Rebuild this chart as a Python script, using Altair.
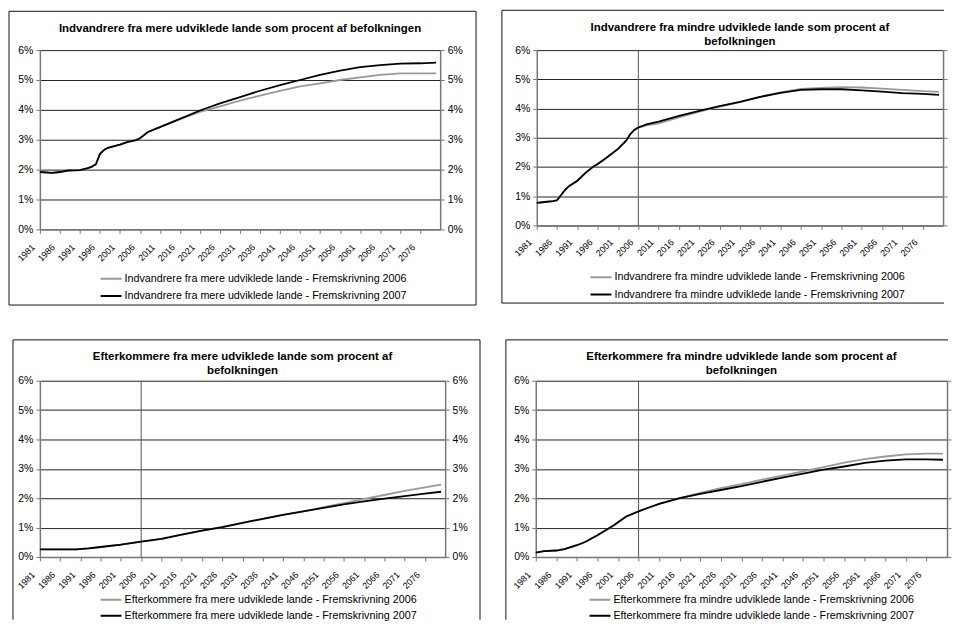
import altair as alt
import pandas as pd

FONT = "Liberation Sans"
GRAY_LINE = "#999999"
AXIS_GRAY = "#777777"

# ---------------- data (percent of population) ----------------
TICK_YEARS = list(range(1981, 2077, 5))
PCT_TICKS = [0, 1, 2, 3, 4, 5, 6]
VLINE_YEAR = [2006]

TL_YEARS = [1981, 1984, 1986, 1988, 1991, 1993, 1994, 1995, 1996, 1997, 1998, 2001, 2003,
            2005, 2006, 2008, 2011, 2016, 2021, 2026, 2031, 2036, 2041, 2046, 2051, 2056,
            2061, 2066, 2071, 2076, 2080]
TL_2007 = [1.92, 1.89, 1.92, 1.97, 1.98, 2.05, 2.10, 2.18, 2.52, 2.66, 2.73, 2.84, 2.93,
           2.99, 3.05, 3.26, 3.42, 3.70, 3.98, 4.22, 4.43, 4.64, 4.83, 5.00, 5.17, 5.31,
           5.43, 5.50, 5.55, 5.56, 5.58]
TL_2006 = [1.92, 1.89, 1.92, 1.97, 1.98, 2.05, 2.10, 2.18, 2.52, 2.66, 2.73, 2.84, 2.93,
           2.99, 3.05, 3.26, 3.42, 3.69, 3.93, 4.12, 4.31, 4.48, 4.64, 4.79, 4.89, 5.00,
           5.09, 5.17, 5.22, 5.22, 5.22]

TR_YEARS = [1981, 1983, 1985, 1986, 1988, 1989, 1991, 1993, 1995, 1996, 1998, 2001, 2003,
            2004, 2005, 2006, 2008, 2011, 2016, 2021, 2026, 2031, 2036, 2041, 2046, 2051,
            2056, 2061, 2066, 2071, 2076, 2080]
TR_2007 = [0.77, 0.80, 0.83, 0.86, 1.22, 1.35, 1.53, 1.80, 2.02, 2.10, 2.30, 2.62, 2.90,
           3.12, 3.27, 3.35, 3.46, 3.55, 3.75, 3.92, 4.08, 4.23, 4.40, 4.54, 4.64, 4.66,
           4.66, 4.62, 4.58, 4.53, 4.50, 4.47]
TR_2006 = [0.77, 0.80, 0.83, 0.86, 1.22, 1.35, 1.53, 1.80, 2.02, 2.10, 2.30, 2.62, 2.90,
           3.12, 3.27, 3.35, 3.42, 3.49, 3.70, 3.89, 4.07, 4.22, 4.40, 4.55, 4.67, 4.71,
           4.73, 4.72, 4.68, 4.64, 4.60, 4.57]

BL_YEARS = [1981, 1986, 1990, 1993, 1996, 2001, 2006, 2011, 2016, 2021, 2026, 2031, 2036,
            2041, 2046, 2051, 2056, 2061, 2066, 2071, 2076, 2080]
BL_2007 = [0.26, 0.26, 0.26, 0.29, 0.34, 0.42, 0.52, 0.62, 0.76, 0.90, 1.02, 1.16, 1.30,
           1.43, 1.55, 1.67, 1.79, 1.89, 1.99, 2.07, 2.16, 2.22]
BL_2006 = [0.26, 0.26, 0.26, 0.29, 0.34, 0.42, 0.52, 0.62, 0.76, 0.90, 1.02, 1.16, 1.30,
           1.43, 1.55, 1.70, 1.83, 1.98, 2.11, 2.25, 2.37, 2.46]

BR_YEARS = [1981, 1983, 1986, 1988, 1991, 1993, 1996, 1998, 2000, 2001, 2003, 2006, 2008,
            2011, 2016, 2021, 2026, 2031, 2036, 2041, 2046, 2051, 2056, 2061, 2066, 2071,
            2076, 2080]
BR_2007 = [0.15, 0.20, 0.22, 0.27, 0.40, 0.51, 0.74, 0.91, 1.08, 1.18, 1.38, 1.55, 1.66,
           1.81, 2.00, 2.15, 2.28, 2.41, 2.56, 2.70, 2.84, 2.97, 3.08, 3.20, 3.28, 3.32,
           3.32, 3.31]
BR_2006 = [0.15, 0.20, 0.22, 0.27, 0.40, 0.51, 0.74, 0.91, 1.08, 1.18, 1.38, 1.55, 1.66,
           1.81, 2.00, 2.18, 2.34, 2.48, 2.63, 2.77, 2.91, 3.06, 3.21, 3.33, 3.42, 3.49,
           3.52, 3.52]


def edge(x1, x2, y1, y2):
    """One side of the chart-area frame (decoration, in pixels)."""
    return alt.Chart(pd.DataFrame({"k": [0]})).mark_rule(
        color="#111111", strokeWidth=1
    ).encode(x=alt.value(x1), x2=alt.value(x2), y=alt.value(y1), y2=alt.value(y2))


def make_panel(title, cat, years, v06, v07, w, h, edges, leg, vline, toff, right_labels,
               clip_h, row_pad, lab_off, lab_pad):
    lab06 = f"{cat} - Fremskrivning 2006"
    lab07 = f"{cat} - Fremskrivning 2007"
    d06 = pd.DataFrame({"year": years, "value": v06, "series": lab06})
    d07 = pd.DataFrame({"year": years, "value": v07, "series": lab07})

    xenc = alt.X(
        "year:Q",
        scale=alt.Scale(domain=[1981, 2081], nice=False, zero=False),
        axis=alt.Axis(
            title=None, values=TICK_YEARS, format="d",
            labelAngle=-45, labelAlign="right", labelBaseline="middle",
            labelOffset=lab_off, labelPadding=lab_pad, labelOverlap=False, labelFlush=False,
            labelFont=FONT, labelFontSize=9, labelColor="black",
            tickSize=4, tickColor=AXIS_GRAY, tickWidth=1,
            domainColor=AXIS_GRAY, domainWidth=1.5, grid=False,
        ),
    )
    yscale = alt.Scale(domain=[0, 6], nice=False, zero=True)

    def yaxis(orient, grid, labels=True):
        return alt.Axis(
            title=None, orient=orient, values=PCT_TICKS, labels=labels,
            labelExpr="datum.value + '%'", grid=grid, gridColor="#222222", gridWidth=1,
            tickSize=4, tickColor=AXIS_GRAY, tickWidth=1,
            domainColor=AXIS_GRAY, domainWidth=1.5,
            labelFont=FONT, labelFontSize=10.5, labelColor="black", labelPadding=3,
        )

    color = alt.Color(
        "series:N",
        scale=alt.Scale(domain=[lab06, lab07], range=[GRAY_LINE, "#000000"]),
        legend=alt.Legend(
            title=None, orient="none", legendX=leg[0], legendY=leg[1], direction="vertical",
            symbolType="stroke", symbolSize=441, symbolStrokeWidth=2,
            clipHeight=clip_h, rowPadding=row_pad,
            labelFont=FONT, labelFontSize=10.8, labelColor="black", labelOffset=2,
            labelLimit=600, padding=0,
        ),
    )

    layers = [edge(*e) for e in edges]
    if vline:
        layers.append(
            alt.Chart(pd.DataFrame({"year": VLINE_YEAR})).mark_rule(color="#555555", strokeWidth=1)
            .encode(x=xenc)
        )
    layers.append(alt.Chart(d06).mark_line(strokeWidth=1.8).encode(
        x=xenc, y=alt.Y("value:Q", scale=yscale, axis=yaxis("left", True)), color=color))
    layers.append(alt.Chart(d07).mark_line(strokeWidth=1.8).encode(
        x=xenc, y=alt.Y("value:Q", scale=yscale, axis=yaxis("left", True)), color=color))
    right = alt.Chart(d07).mark_line(opacity=0).encode(
        x=xenc, y=alt.Y("value:Q", scale=yscale, axis=yaxis("right", False, right_labels)))

    left_layer = alt.layer(*layers)
    return alt.layer(left_layer, right).resolve_scale(y="independent").properties(
        width=w, height=h,
        title=alt.TitleParams(
            text=title, font=FONT, fontSize=11.5, fontWeight="bold", color="black",
            anchor="middle", baseline="top", lineHeight=13.5, offset=toff,
        ),
    )


# frames: (x1, x2, y1, y2) relative to each plot area
tl = make_panel(
    ["Indvandrere fra mere udviklede lande som procent af befolkningen"],
    "Indvandrere fra mere udviklede lande", TL_YEARS, TL_2006, TL_2007,
    402, 180,
    [(-31, 438, -39, -39), (-31, 438, 256, 256), (-31, -31, -39, 256), (438, 438, -39, 256)],
    (60, 221.5), False, -24, True, 16, 1.5, -7, 12)
tr = make_panel(
    ["Indvandrere fra mindre udviklede lande som procent af", "befolkningen"],
    "Indvandrere fra mindre udviklede lande", TR_YEARS, TR_2006, TR_2007,
    408, 176,
    [(-35, 409, -40, -40), (-35, 409, 254, 254), (-35, -35, -40, 254)],
    (53, 220), True, -37.5, False, 16, 1.5, -7, 11)
bl = make_panel(
    ["Efterkommere fra mere udviklede lande som procent af", "befolkningen"],
    "Efterkommere fra mere udviklede lande", BL_YEARS, BL_2006, BL_2007,
    407, 177,
    [(-27, 442, -41, -41), (-27, -27, -41, 240), (442, 442, -41, 240)],
    (60, 213), True, -37, True, 14, 2, -7, 12)
br = make_panel(
    ["Efterkommere fra mindre udviklede lande som procent af", "befolkningen"],
    "Efterkommere fra mindre udviklede lande", BR_YEARS, BR_2006, BR_2007,
    413, 177,
    [(-30, 414, -41, -41), (-30, -30, -41, 240)],
    (53, 213), True, -37, False, 14, 2, -7, 12)

top = alt.hconcat(tl, tr, spacing=24).resolve_scale(color="independent")
bottom = alt.hconcat(bl, br, spacing=24).resolve_scale(color="independent")
chart = (
    alt.vconcat(top, bottom, spacing=33)
    .resolve_scale(color="independent")
    .properties(padding={"left": 0, "top": 0, "right": 0, "bottom": 0})
    .configure_view(strokeWidth=0)
)

chart.save("out.html", embed_options={"renderer": "svg", "actions": False})
